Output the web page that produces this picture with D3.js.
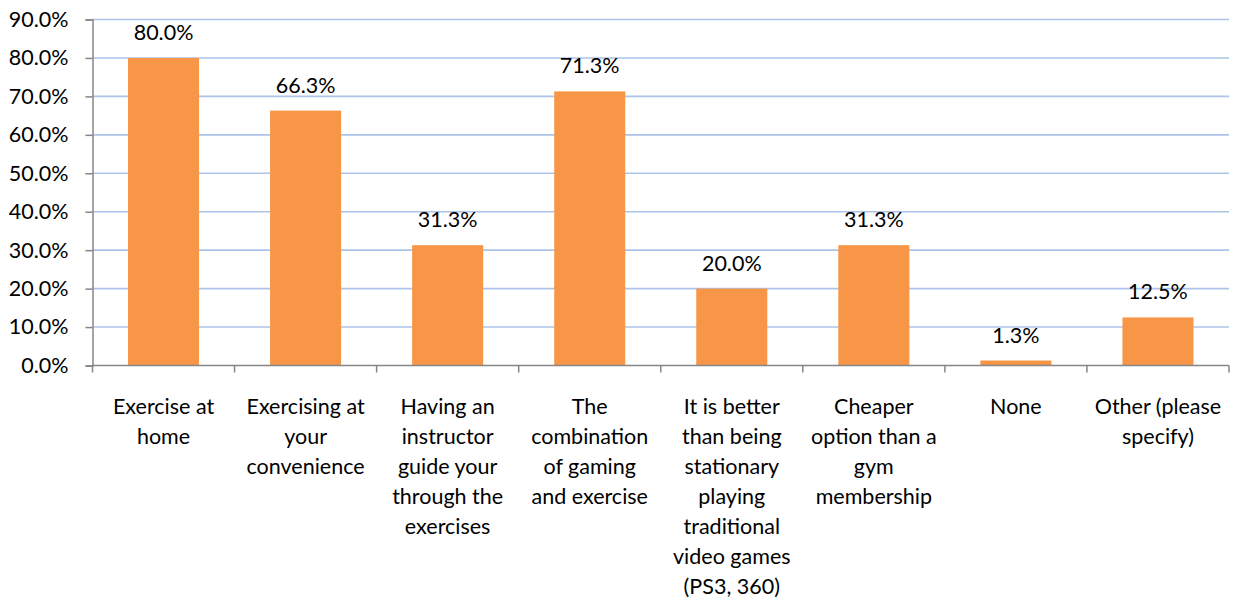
<!DOCTYPE html>
<html>
<head>
<meta charset="utf-8">
<script src="https://cdnjs.cloudflare.com/ajax/libs/d3/7.8.5/d3.min.js"></script>
<style>
  html, body { margin: 0; padding: 0; background: #fff; }
  svg { display: block; font-family: "Lato", "Open Sans", sans-serif; }
</style>
</head>
<body>
<svg id="chart" width="1237" height="603"></svg>
<script>
// Survey responses: reasons for choosing exercise games
const categories = [
  "Exercise at home",
  "Exercising at your convenience",
  "Having an instructor guide your through the exercises",
  "The combination of gaming and exercise",
  "It is better than being stationary playing traditional video games (PS3, 360)",
  "Cheaper option than a gym membership",
  "None",
  "Other (please specify)"
];
const categoryLines = [
  ["Exercise at", "home"],
  ["Exercising at", "your", "convenience"],
  ["Having an", "instructor", "guide your", "through the", "exercises"],
  ["The", "combination", "of gaming", "and exercise"],
  ["It is better", "than being", "stationary", "playing", "traditional", "video games", "(PS3, 360)"],
  ["Cheaper", "option than a", "gym", "membership"],
  ["None"],
  ["Other (please", "specify)"]
];
const values = [80.0, 66.3, 31.3, 71.3, 20.0, 31.3, 1.3, 12.5];
const yTicks = [0, 10, 20, 30, 40, 50, 60, 70, 80, 90];

const svg = d3.select("#chart");
const plotLeft = 92.5, plotRight = 1229, plotTop = 19.5, plotBottom = 365.5;
const fontSize = 21.5;

const x = d3.scaleBand().domain(categories).range([plotLeft, plotRight]).paddingInner(0.5).paddingOuter(0.25);
const band = d3.scaleBand().domain(categories).range([plotLeft, plotRight]);
const y = d3.scaleLinear().domain([0, 90]).range([plotBottom, plotTop]);

// horizontal gridlines
svg.append("g")
  .selectAll("line")
  .data(yTicks.filter(d => d > 0))
  .join("line")
  .attr("x1", plotLeft).attr("x2", plotRight)
  .attr("y1", d => y(d)).attr("y2", d => y(d))
  .attr("stroke", "#ADC3E9")
  .attr("stroke-width", 1.6);

// bars
svg.append("g")
  .selectAll("rect")
  .data(values)
  .join("rect")
  .attr("x", (d, i) => x(categories[i]))
  .attr("width", x.bandwidth())
  .attr("y", d => y(d))
  .attr("height", d => y(0) - y(d))
  .attr("fill", "#F79646");

// value labels
svg.append("g")
  .selectAll("text")
  .data(values)
  .join("text")
  .attr("x", (d, i) => x(categories[i]) + x.bandwidth() / 2)
  .attr("y", d => y(d) - 18)
  .attr("text-anchor", "middle")
  .attr("font-size", fontSize)
  .attr("fill", "#000")
  .text(d => d.toFixed(1) + "%");

// y axis
const yAxis = d3.axisLeft(y).tickValues(yTicks).tickSize(7).tickPadding(17)
  .tickFormat(d => d.toFixed(1) + "%");
const gy = svg.append("g").attr("transform", `translate(${plotLeft},0)`).call(yAxis);
gy.select(".domain").attr("stroke", "#868686").attr("stroke-width", 1.5);
gy.selectAll(".tick line").attr("stroke", "#868686").attr("stroke-width", 1.5);
gy.selectAll(".tick text").attr("font-size", fontSize).attr("fill", "#000")
  .attr("font-family", "Lato, 'Open Sans', sans-serif");

// x axis line with category boundary ticks
const gx = svg.append("g");
gx.append("line")
  .attr("x1", plotLeft).attr("x2", plotRight)
  .attr("y1", plotBottom).attr("y2", plotBottom)
  .attr("stroke", "#868686").attr("stroke-width", 1.5);
const boundaries = categories.map(c => band(c)).concat([plotRight]);
gx.selectAll("line.tk")
  .data(boundaries)
  .join("line")
  .attr("class", "tk")
  .attr("x1", d => d).attr("x2", d => d)
  .attr("y1", plotBottom).attr("y2", plotBottom + 7)
  .attr("stroke", "#868686").attr("stroke-width", 1.5);

// category labels, wrapped
const lab = svg.append("g")
  .selectAll("text")
  .data(categories)
  .join("text")
  .attr("text-anchor", "middle")
  .attr("font-size", fontSize)
  .attr("fill", "#000");
lab.each(function (c, i) {
  const cx = band(c) + band.bandwidth() / 2;
  d3.select(this).selectAll("tspan")
    .data(categoryLines[i])
    .join("tspan")
    .attr("x", cx)
    .attr("y", (d, j) => 414 + j * 30)
    .text(d => d);
});
</script>
</body>
</html>
